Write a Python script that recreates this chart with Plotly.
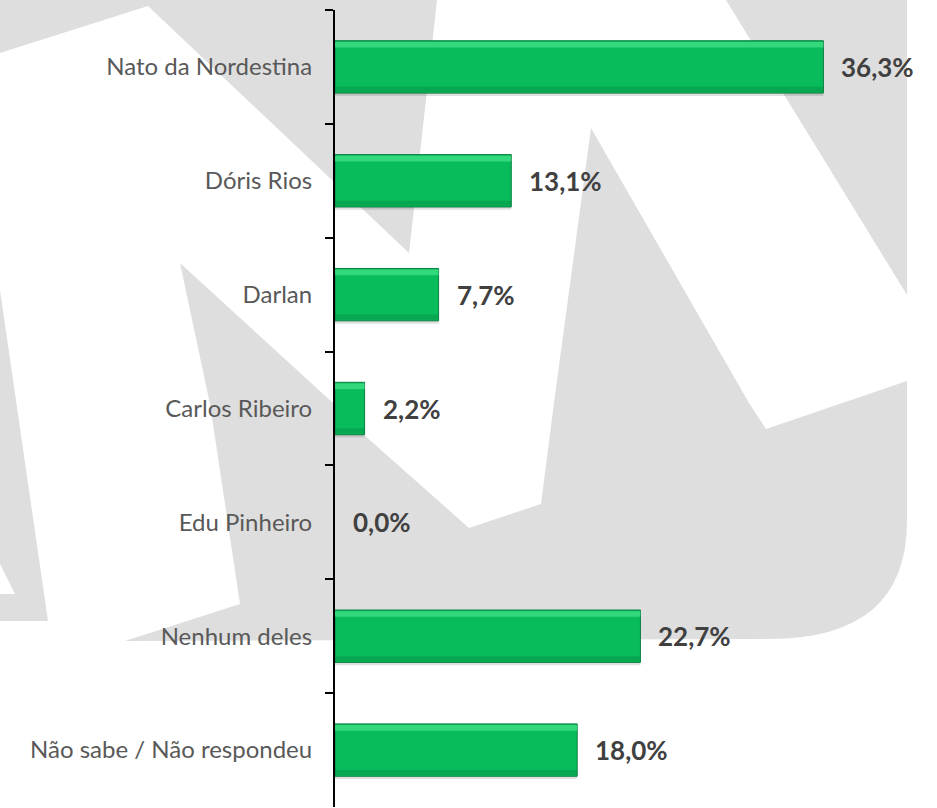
import plotly.graph_objects as go

# ---- data ----
categories = ["Nato da Nordestina", "Dóris Rios", "Darlan", "Carlos Ribeiro",
              "Edu Pinheiro", "Nenhum deles", "Não sabe / Não respondeu"]
values = [36.3, 13.1, 7.7, 2.2, 0.0, 22.7, 18.0]
labels = [f"{v:.1f}".replace(".", ",") + "%" for v in values]

# ---- geometry of figure ----
W, H = 937, 808
ML, MR, MT, MB = 335, 10, 10, 1
PW, PH = W - ML - MR, H - MT - MB


def px(x, y):
    return (x - ML) / PW, 1 - (y - MT) / PH


def path_from(points, close=True):
    parts = []
    for i, (x, y) in enumerate(points):
        X, Y = px(x, y)
        parts.append(("M" if i == 0 else "L") + f"{X:.5f},{Y:.5f}")
    return " ".join(parts) + (" Z" if close else "")


WM = "#DEDEDE"
shapes = []
# watermark polygons (decorative background logo)
polyA = [(0, 0), (437, 0), (409, 253), (148, 6), (0, 53)]
polyB = [(726, 0), (907, 0), (907, 295)]
polyD = [(0, 290), (48, 621), (0, 621), (0, 594), (15, 594), (0, 564)]
for poly in (polyA, polyB, polyD):
    shapes.append(dict(type="path", xref="paper", yref="paper", path=path_from(poly),
                       fillcolor=WM, line=dict(width=0), layer="below"))
polyC = [(180, 263), (333, 403), (363, 434), (469, 528), (541, 504), (554, 403),
         (591, 128), (749, 403), (766, 429), (907, 381), (907, 521)]
pC = path_from(polyC, close=False)
cx, cy = px(907, 639)
ex, ey = px(769, 639)
pC += f" Q{cx:.5f},{cy:.5f} {ex:.5f},{ey:.5f}"
for (x, y) in [(125, 641), (240, 604), (210, 404)]:
    X, Y = px(x, y)
    pC += f" L{X:.5f},{Y:.5f}"
pC += " Z"
shapes.append(dict(type="path", xref="paper", yref="paper", path=pC,
                   fillcolor=WM, line=dict(width=0), layer="below"))

BW = 0.46
outline_w = [1 if v > 0 else 0 for v in values]
fig = go.Figure()
# soft shadow
fig.add_trace(go.Bar(y=categories, x=values, orientation="h", width=BW, offset=-BW / 2 + 0.025,
                     marker=dict(color="rgba(0,0,0,0.12)", line=dict(width=0)),
                     hoverinfo="skip", showlegend=False))
# main bar
fig.add_trace(go.Bar(y=categories, x=values, orientation="h", width=BW, offset=-BW / 2,
                     marker=dict(color="#09BC5B", line=dict(color="#0A7E40", width=outline_w)),
                     showlegend=False))
# top highlight
fig.add_trace(go.Bar(y=categories, x=values, orientation="h", width=0.05, offset=-BW / 2 + 0.01,
                     marker=dict(color="rgba(70,228,140,0.7)", line=dict(width=0)),
                     hoverinfo="skip", showlegend=False))
# bottom darker band
fig.add_trace(go.Bar(y=categories, x=values, orientation="h", width=0.045, offset=BW / 2 - 0.055,
                     marker=dict(color="rgba(6,140,68,0.45)", line=dict(width=0)),
                     hoverinfo="skip", showlegend=False))

annotations = []
for c, v, t in zip(categories, values, labels):
    annotations.append(dict(x=v, y=c, xref="x", yref="y", text=t, showarrow=False,
                            xanchor="left", yanchor="middle", xshift=16,
                            font=dict(family="Lato", size=26, color="#404040", weight="bold")))

fig.update_layout(
    width=W, height=H,
    margin=dict(l=ML, r=MR, t=MT, b=MB),
    paper_bgcolor="white", plot_bgcolor="rgba(0,0,0,0)",
    barmode="overlay",
    shapes=shapes, annotations=annotations,
    showlegend=False,
    xaxis=dict(range=[0, 44], visible=False, fixedrange=True),
    yaxis=dict(type="category", categoryorder="array", categoryarray=categories,
               autorange="reversed", showline=True, linecolor="black", linewidth=2,
               ticks="outside", tickson="boundaries", ticklen=8, tickwidth=2, tickcolor="black",
               tickfont=dict(family="Lato", size=24, color="#595959"),
               ticklabelstandoff=16, showgrid=False, zeroline=False),
    font=dict(family="Lato"),
)

fig.write_html("out.html", config={"displayModeBar": False},
               post_script="document.body.style.margin='0';document.body.style.overflow='hidden';")
